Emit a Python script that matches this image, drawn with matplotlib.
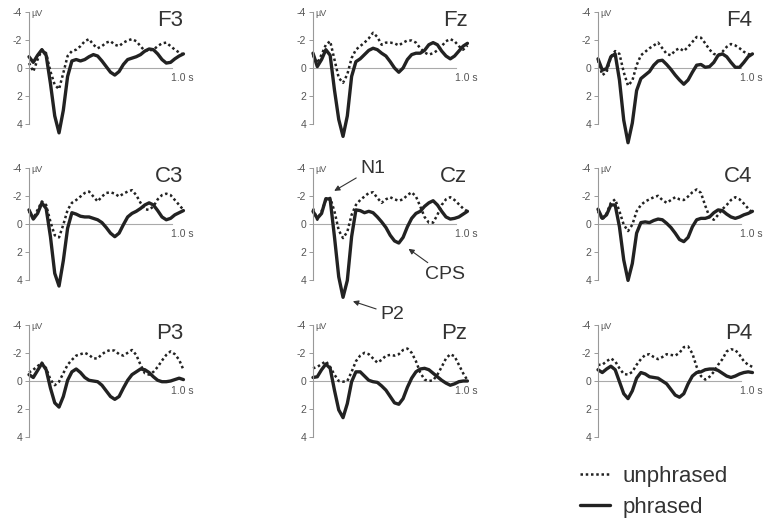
import matplotlib.pyplot as plt
import numpy as np

plt.rcParams['font.family'] = ['Liberation Sans', 'DejaVu Sans']

# sampling grid in seconds (every 30 ms)
time = np.round(np.arange(37) * 0.03, 2)

electrodes = ["F3", "Fz", "F4", "C3", "Cz", "C4", "P3", "Pz", "P4"]

f3_phrased = [-0.8, -0.4, -0.9, -1.3, -0.9, 1.1, 3.4, 4.6, 3.0, 0.6, -0.5, -0.6, -0.5, -0.6, -0.8, -0.95, -0.85, -0.5, -0.1, 0.3,
              0.5, 0.25, -0.25, -0.6, -0.7, -0.8, -0.95, -1.2, -1.35, -1.3, -1.0, -0.6, -0.35, -0.4, -0.65, -0.85, -1.0]
f3_unphrased = [-0.35, 0.25, -0.6, -1.3, -1.05, 0.25, 1.2, 1.5, 0.35, -0.85, -1.2, -1.3, -1.55, -1.9, -2.05, -1.65, -1.4, -1.55, -1.8, -1.9,
                -1.65, -1.55, -1.8, -1.95, -2.05, -1.9, -1.55, -1.2, -1.25, -1.3, -1.55, -1.75, -1.8, -1.55, -1.3, -1.1, -0.95]
fz_phrased = [-1.05, -0.1, -0.6, -1.3, -0.9, 1.55, 3.65, 4.85, 3.4, 0.6, -0.45, -0.65, -0.95, -1.25, -1.4, -1.3, -1.05, -0.85, -0.45, 0.0,
              0.3, 0.0, -0.6, -0.95, -1.05, -1.05, -1.25, -1.65, -1.8, -1.65, -1.2, -0.85, -0.65, -0.85, -1.2, -1.55, -1.75]
fz_unphrased = [-0.9, -0.35, -0.95, -1.65, -1.9, -0.6, 0.7, 1.05, 0.45, -0.7, -1.3, -1.55, -1.8, -2.1, -2.5, -2.2, -1.65, -1.8, -1.8, -1.75,
                -1.6, -1.8, -1.95, -1.95, -1.8, -1.4, -1.1, -0.95, -1.05, -1.25, -1.55, -1.9, -2.05, -1.9, -1.55, -1.3, -1.6]
f4_phrased = [-0.65, 0.15, 0.05, -0.8, -1.0, 0.85, 3.7, 5.3, 3.9, 1.6, 0.75, 0.5, 0.25, -0.2, -0.5, -0.55, -0.25, 0.1, 0.5, 0.85,
              1.15, 0.85, 0.3, -0.2, -0.25, -0.05, -0.1, -0.4, -0.9, -1.0, -0.8, -0.4, -0.05, -0.05, -0.4, -0.8, -1.0]
f4_unphrased = [-0.55, 0.5, 0.3, -0.8, -1.2, -1.0, 0.3, 1.25, 0.9, -0.2, -0.9, -1.15, -1.4, -1.6, -1.8, -1.4, -1.0, -0.9, -1.25, -1.4,
                -1.2, -1.5, -1.85, -2.2, -2.15, -1.75, -1.3, -1.0, -0.9, -1.15, -1.5, -1.7, -1.6, -1.4, -1.15, -1.0, -0.9]
c3_phrased = [-1.0, -0.35, -0.75, -1.5, -1.1, 0.9, 3.5, 4.4, 2.6, 0.3, -0.8, -0.7, -0.55, -0.5, -0.5, -0.4, -0.3, -0.1, 0.25, 0.65,
              0.9, 0.65, 0.05, -0.5, -0.75, -0.9, -1.1, -1.35, -1.5, -1.35, -0.95, -0.5, -0.3, -0.4, -0.65, -0.8, -0.95]
c3_unphrased = [-0.9, -0.4, -1.0, -1.6, -1.35, -0.15, 0.8, 0.95, 0.05, -1.0, -1.5, -1.7, -1.95, -2.2, -2.3, -1.95, -1.6, -1.95, -2.2, -2.25,
                -2.15, -1.95, -2.15, -2.3, -2.4, -2.05, -1.5, -1.05, -1.0, -1.25, -1.75, -2.05, -2.15, -2.05, -1.7, -1.35, -1.0]
cz_phrased = [-0.9, -0.4, -0.75, -1.8, -1.75, 0.9, 3.75, 5.2, 4.0, 0.9, -1.0, -0.95, -0.8, -0.9, -0.8, -0.5, -0.15, 0.25, 0.8, 1.2,
              1.35, 0.95, 0.2, -0.4, -0.75, -0.9, -1.25, -1.5, -1.65, -1.35, -0.9, -0.5, -0.35, -0.4, -0.5, -0.7, -0.9]
cz_unphrased = [-1.1, -0.3, -0.9, -1.7, -1.85, -0.9, 0.45, 1.0, 0.55, -0.65, -1.35, -1.7, -1.95, -2.2, -2.25, -1.85, -1.5, -1.75, -1.9, -1.75,
                -1.65, -1.75, -2.05, -2.25, -1.95, -1.25, -0.5, -0.1, -0.1, -0.65, -1.35, -1.75, -1.9, -1.7, -1.4, -1.1, -0.9]
c4_phrased = [-1.05, -0.4, -0.65, -1.35, -1.35, 0.2, 2.55, 4.0, 2.8, 0.65, -0.1, -0.15, -0.1, -0.25, -0.35, -0.3, -0.05, 0.25, 0.65, 1.1,
              1.25, 0.95, 0.2, -0.3, -0.4, -0.4, -0.5, -0.8, -1.0, -0.95, -0.7, -0.5, -0.4, -0.5, -0.65, -0.75, -0.9]
c4_unphrased = [-0.9, -0.3, -0.75, -1.5, -1.75, -0.9, 0.05, 0.5, 0.05, -0.9, -1.35, -1.6, -1.75, -1.9, -2.0, -1.7, -1.5, -1.7, -1.9, -1.75,
                -1.7, -1.95, -2.25, -2.45, -2.2, -1.3, -0.5, -0.3, -0.65, -1.05, -1.35, -1.7, -1.9, -1.75, -1.45, -1.1, -0.8]
p3_phrased = [-0.45, -0.25, -0.75, -1.25, -0.8, 0.5, 1.55, 1.85, 1.1, -0.05, -0.65, -0.85, -0.6, -0.25, -0.05, 0.0, 0.05, 0.3, 0.7, 1.1,
              1.3, 1.1, 0.5, -0.05, -0.45, -0.65, -0.85, -0.8, -0.6, -0.3, -0.05, 0.05, 0.05, 0.0, -0.1, -0.2, -0.1]
p3_unphrased = [-0.6, -0.8, -1.05, -1.3, -0.9, -0.1, 0.3, 0.05, -0.55, -1.15, -1.5, -1.8, -1.9, -2.0, -1.85, -1.6, -1.6, -1.9, -2.1, -2.2,
                -2.15, -1.9, -1.8, -2.0, -2.2, -1.85, -1.15, -0.55, -0.45, -0.65, -1.0, -1.45, -1.85, -2.1, -1.9, -1.5, -0.8]
pz_phrased = [-0.25, -0.3, -0.8, -1.2, -0.9, 0.65, 2.05, 2.6, 1.6, 0.05, -0.65, -0.65, -0.35, -0.05, 0.05, 0.1, 0.35, 0.65, 1.1, 1.55,
              1.65, 1.25, 0.45, -0.2, -0.65, -0.85, -0.9, -0.8, -0.55, -0.3, -0.05, 0.15, 0.3, 0.2, 0.05, 0.0, 0.0]
pz_unphrased = [-0.9, -1.0, -1.2, -1.4, -1.0, -0.45, 0.0, 0.05, 0.0, -0.65, -1.4, -1.8, -2.0, -1.9, -1.6, -1.3, -1.5, -1.8, -1.85, -1.8,
                -1.9, -2.2, -2.3, -2.0, -1.4, -0.6, -0.1, 0.0, -0.05, -0.45, -1.0, -1.6, -1.9, -1.75, -1.15, -0.55, -0.05]
p4_phrased = [-0.8, -0.6, -0.85, -1.05, -0.8, 0.05, 0.9, 1.25, 0.7, -0.2, -0.6, -0.5, -0.3, -0.25, -0.2, 0.0, 0.2, 0.6, 1.0, 1.15,
              0.9, 0.2, -0.35, -0.6, -0.65, -0.8, -0.85, -0.85, -0.75, -0.55, -0.35, -0.25, -0.35, -0.5, -0.6, -0.65, -0.6]
p4_unphrased = [-1.15, -1.15, -1.4, -1.6, -1.4, -0.9, -0.5, -0.45, -0.65, -1.15, -1.55, -1.85, -1.9, -1.7, -1.55, -1.7, -1.9, -1.85, -1.8, -2.0,
                -2.4, -2.45, -1.95, -1.0, -0.35, -0.1, -0.3, -0.65, -1.15, -1.55, -2.1, -2.25, -2.2, -1.85, -1.4, -1.15, -1.0]

phrased = [f3_phrased, fz_phrased, f4_phrased, c3_phrased, cz_phrased, c4_phrased, p3_phrased, pz_phrased, p4_phrased]
unphrased = [f3_unphrased, fz_unphrased, f4_unphrased, c3_unphrased, cz_unphrased, c4_unphrased, p3_unphrased, pz_unphrased, p4_unphrased]

W, H = 763, 521
col_x = [29, 313, 598]     # pixel x of stimulus onset per column
row_y = [68, 224, 381]     # pixel y of 0 uV per row
px_per_s = 143
px_per_uv = 14.1
ink = "#222222"
grey = "#999999"

fig = plt.figure(figsize=(W / 100, H / 100), dpi=100)

axes = {}
for i, name in enumerate(electrodes):
    r, c = divmod(i, 3)
    left = col_x[c] / W
    bottom = 1 - (row_y[r] + 4.5 * px_per_uv) / H
    ax = fig.add_axes([left, bottom, 1.1 * px_per_s / W, 9 * px_per_uv / H])
    ax.set_xlim(0, 1.1)
    ax.set_ylim(4.5, -4.5)
    ax.patch.set_visible(False)

    for side in ["top", "right", "bottom"]:
        ax.spines[side].set_visible(False)
    ax.spines["left"].set_bounds(-4, 4)
    ax.spines["left"].set_color(grey)
    ax.spines["left"].set_linewidth(0.8)
    ax.set_xticks([])
    ax.set_yticks([-4, -2, 0, 2, 4])
    ax.set_yticklabels(["-4", "-2", "0", "2", "4"])
    ax.tick_params(axis="y", length=3, width=0.7, color=grey, labelsize=7.5, labelcolor="#555555", pad=2)

    ax.axhline(0, xmin=0, xmax=1.0 / 1.1, color="#aaaaaa", lw=0.8)
    ax.text(0.99, 0.35, "1.0 s", fontsize=7.5, color="#555555", ha="left", va="top")
    ax.text(0.015, -3.85, "µV", fontsize=6.5, color="#555555", ha="left", va="center")
    ax.text(1.08, -3.4, name, fontsize=16, color="#333333", ha="right", va="center")

    h_dot, = ax.plot(time, unphrased[i], color=ink, lw=1.8, linestyle=(0, (1, 1.1)), clip_on=False)
    h_solid, = ax.plot(time, phrased[i], color=ink, lw=2.4, clip_on=False, solid_capstyle="round")
    axes[name] = ax

# component labels in the Cz panel
ax = axes["Cz"]
arrow = dict(arrowstyle="-|>", lw=0.8, color="#333333", mutation_scale=8, shrinkA=1, shrinkB=1)
ax.annotate("N1", xy=(0.14, -2.3), xytext=(0.33, -3.95), fontsize=14, color="#333333",
            ha="left", va="center", arrowprops=arrow, annotation_clip=False)
ax.annotate("CPS", xy=(0.66, 1.7), xytext=(0.78, 3.6), fontsize=14, color="#333333",
            ha="left", va="center", arrowprops=arrow, annotation_clip=False)
ax.annotate("P2", xy=(0.27, 5.45), xytext=(0.47, 6.4), fontsize=14, color="#333333",
            ha="left", va="center", arrowprops=arrow, annotation_clip=False)

fig.legend(handles=[h_dot, h_solid], labels=["unphrased", "phrased"], loc="upper left",
           bbox_to_anchor=(580 / W, 1 - 466 / H), frameon=False, fontsize=16, borderpad=0,
           borderaxespad=0, handlelength=1.35, handletextpad=0.55, labelspacing=0.45,
           labelcolor="#333333")

fig.savefig("out.png", dpi=100)
